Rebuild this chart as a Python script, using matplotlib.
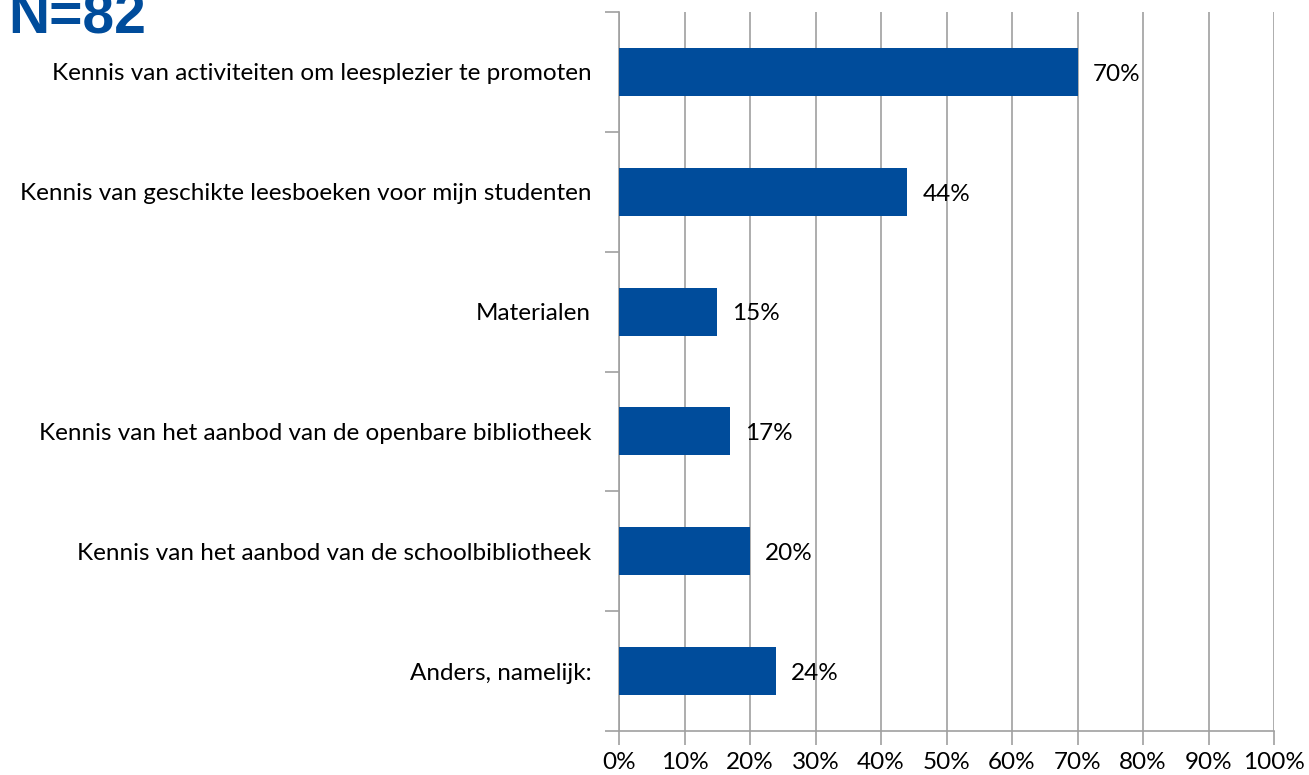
import numpy as np
import matplotlib
matplotlib.use('Agg')
import matplotlib.pyplot as plt

categories = [
    'Kennis van activiteiten om leesplezier te promoten',
    'Kennis van geschikte leesboeken voor mijn studenten',
    'Materialen',
    'Kennis van het aanbod van de openbare bibliotheek',
    'Kennis van het aanbod van de schoolbibliotheek',
    'Anders, namelijk:',
]
values = [70, 44, 15, 17, 20, 24]
xticks = np.arange(0, 101, 10)

bar_color = '#004C9B'
grid_color = '#A0A0A0'
fs = 17.5

plt.rcParams['font.family'] = ['Lato', 'DejaVu Sans']

fig = plt.figure(figsize=(13.09, 7.75), dpi=100)
ax = fig.add_axes([619 / 1309, 44 / 775, 655 / 1309, 719 / 775])

y = np.arange(len(categories))
ax.barh(y, values, height=0.4, color=bar_color, zorder=3)
for yi, v in zip(y, values):
    ax.text(v + 2.3, yi + 0.02, f'{v}%', va='center', ha='left', fontsize=fs, zorder=4)

ax.set_xlim(0, 100)
ax.set_ylim(len(categories) - 0.5, -0.5)
ax.set_xticks(xticks)
ax.set_xticklabels([f'{t}%' for t in xticks], fontsize=fs)
ax.set_yticks(y)
ax.set_yticklabels(categories, fontsize=fs)
ax.tick_params(axis='y', length=0, pad=20)
ax.tick_params(axis='x', length=10, color=grid_color, width=1.2, pad=5)

# category boundary ticks on the left axis
ax.set_yticks(np.arange(-0.5, len(categories)), minor=True)
ax.tick_params(axis='y', which='minor', length=10, color=grid_color, width=1.2)

ax.grid(axis='x', color=grid_color, linewidth=1.2, zorder=0)
for s in ['top', 'right']:
    ax.spines[s].set_visible(False)
for s in ['left', 'bottom']:
    ax.spines[s].set_color(grid_color)
    ax.spines[s].set_linewidth(1.2)

fig.text(8 / 1309, 1 - 33 / 775, 'N=82', fontsize=41, fontweight='bold',
         color=bar_color, family='Liberation Sans', va='baseline', ha='left')

fig.savefig('out.png', dpi=100)
